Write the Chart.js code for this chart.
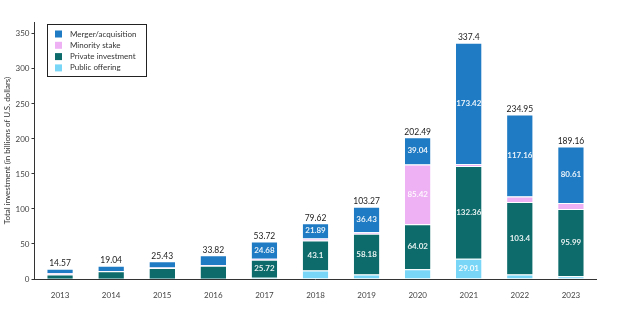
<!DOCTYPE html>
<html>
<head>
<meta charset="utf-8">
<script src="https://cdn.jsdelivr.net/npm/chart.js@4"></script>
<style>
  body { margin: 0; background: #fff; }
  #wrap { width: 642px; height: 323px; }
</style>
</head>
<body>
<div id="wrap"><canvas id="chart" width="642" height="323"></canvas></div>
<script>
// years on the x axis
const years = ["2013", "2014", "2015", "2016", "2017", "2018", "2019", "2020", "2021", "2022", "2023"];

// series values, billions of U.S. dollars
const publicOffering = [0.37, 0.5, 0.5, 0.5, 1.82, 12.0, 6.5, 14.01, 29.01, 6.39, 4.06];
const privateInvestment = [6.0, 10.54, 15.13, 18.52, 25.72, 43.1, 58.18, 64.02, 132.36, 103.4, 95.99];
const minorityStake = [2.0, 0.5, 0.8, 0.8, 1.5, 2.63, 2.16, 85.42, 2.61, 8.0, 8.5];
const mergerAcquisition = [6.2, 7.5, 9.0, 14.0, 24.68, 21.89, 36.43, 39.04, 173.42, 117.16, 80.61];
const totals = [14.57, 19.04, 25.43, 33.82, 53.72, 79.62, 103.27, 202.49, 337.4, 234.95, 189.16];

// which segment values get printed inside the bar
const showPublic = [false, false, false, false, false, false, false, false, true, false, false];
const showPrivate = [false, false, false, false, true, true, true, true, true, true, true];
const showMinority = [false, false, false, false, false, false, false, true, false, false, false];
const showMerger = [false, false, false, false, true, true, true, true, true, true, true];

const yTicks = [0, 50, 100, 150, 200, 250, 300, 350];

const FONT = "Lato, 'DejaVu Sans', sans-serif";

function seg(label, data, color, show) {
    return {
        label: label,
        data: data,
        backgroundColor: color,
        borderColor: "#ffffff",
        borderWidth: { top: 1, bottom: 0, left: 0, right: 0 },
        borderSkipped: false,
        barPercentage: 0.5,
        categoryPercentage: 1.0,
        showValues: show,
    };
}

// values inside segments + total on top
const valueLabels = {
    id: "valueLabels",
    afterDatasetsDraw(chart) {
        const ctx = chart.ctx;
        ctx.save();
        ctx.textAlign = "center";
        ctx.textBaseline = "middle";
        chart.data.datasets.forEach((ds, i) => {
            const meta = chart.getDatasetMeta(i);
            ctx.font = "bold 8px " + FONT;
            ctx.fillStyle = "rgba(255,255,255,0.9)";
            meta.data.forEach((bar, j) => {
                if (!ds.showValues[j]) return;
                const yMid = (bar.y + bar.base) / 2;
                ctx.fillText(String(ds.data[j]), bar.x, yMid);
            });
        });
        const top = chart.getDatasetMeta(chart.data.datasets.length - 1);
        ctx.font = "8.5px " + FONT;
        ctx.fillStyle = "#222";
        ctx.textBaseline = "bottom";
        top.data.forEach((bar, j) => {
            ctx.fillText(String(totals[j]), bar.x, bar.y - 1);
        });
        ctx.restore();
    },
};

// legend box in the top-left of the plot
const boxLegend = {
    id: "boxLegend",
    afterDraw(chart) {
        const ctx = chart.ctx;
        const x = 47, y = 24, w = 99, h = 52;
        ctx.save();
        ctx.strokeStyle = "#222";
        ctx.lineWidth = 1;
        ctx.strokeRect(x + 0.5, y + 0.5, w, h);
        ctx.font = "8px " + FONT;
        ctx.textBaseline = "middle";
        ctx.textAlign = "left";
        const items = chart.data.datasets.slice().reverse();
        items.forEach((ds, k) => {
            const cy = y + 10 + k * 11.3;
            ctx.fillStyle = ds.backgroundColor;
            ctx.fillRect(x + 8, cy - 3.5, 7, 7);
            ctx.fillStyle = "#333";
            ctx.fillText(ds.label, x + 23, cy);
        });
        ctx.restore();
    },
};

new Chart(document.getElementById("chart").getContext("2d"), {
    type: "bar",
    data: {
        labels: years,
        datasets: [
            seg("Public offering", publicOffering, "#7ad6f6", showPublic),
            seg("Private investment", privateInvestment, "#0d6b6b", showPrivate),
            seg("Minority stake", minorityStake, "#eeb1f4", showMinority),
            seg("Merger/acquisition", mergerAcquisition, "#1f7bc4", showMerger),
        ],
    },
    options: {
        responsive: false,
        animation: false,
        layout: { padding: { top: 22, right: 45.5, bottom: 22, left: 3 } },
        plugins: {
            legend: { display: false },
            tooltip: { enabled: false },
        },
        scales: {
            x: {
                stacked: true,
                grid: { display: false },
                border: { color: "#333", width: 1 },
                ticks: { color: "#444", font: { family: FONT, size: 8 }, padding: 4 },
                afterFit(scale) { scale.height = 22; },
            },
            y: {
                stacked: true,
                min: 0,
                max: 367,
                afterBuildTicks(scale) {
                    scale.ticks = yTicks.map(v => ({ value: v }));
                },
                grid: { drawOnChartArea: false, tickLength: 3, color: "#333" },
                border: { color: "#333", width: 1 },
                ticks: { color: "#444", font: { family: FONT, size: 8 }, padding: 2 },
                title: {
                    display: true,
                    text: "Total investment (in billions of U.S. dollars)",
                    color: "#333",
                    font: { family: FONT, size: 8 },
                    padding: 0,
                },
                afterFit(scale) { scale.width = 31.5; },
            },
        },
    },
    plugins: [valueLabels, boxLegend],
});
</script>
</body>
</html>
